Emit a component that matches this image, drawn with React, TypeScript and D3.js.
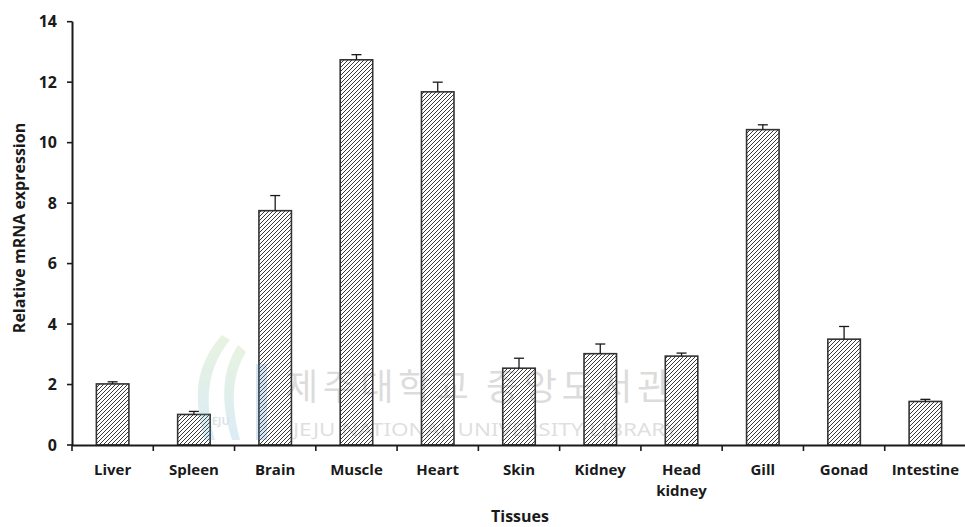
import React from "react";
import * as d3 from "d3";

// Tissue-specific relative mRNA expression (mean and upper error)
const categories = [
  "Liver",
  "Spleen",
  "Brain",
  "Muscle",
  "Heart",
  "Skin",
  "Kidney",
  "Head kidney",
  "Gill",
  "Gonad",
  "Intestine",
];
const means = [2.02, 1.01, 7.75, 12.74, 11.68, 2.54, 3.02, 2.94, 10.43, 3.5, 1.44];
const errors = [0.07, 0.1, 0.5, 0.17, 0.32, 0.33, 0.32, 0.1, 0.16, 0.42, 0.07];
const yTicks = [0, 2, 4, 6, 8, 10, 12, 14];

const W = 965;
const H = 527;
const FONT = "'Open Sans', 'Noto Sans', sans-serif";
const INK = "#1a1a1a";

export default function App() {
  const x = d3
    .scaleBand<string>()
    .domain(categories)
    .range([72, 966])
    .paddingInner(0.6)
    .paddingOuter(0.3);
  const y = d3.scaleLinear().domain([0, 14]).range([445, 21.7]);
  const step = x.step();
  const x0 = x.range()[0];
  const boundaries = d3.range(categories.length + 1).map((i) => x0 + i * step);

  return (
    <svg
      width={W}
      height={H}
      viewBox={`0 0 ${W} ${H}`}
      style={{ position: "absolute", left: 0, top: 0, background: "#fff" }}
    >
      <defs>
        <pattern id="hatch" patternUnits="userSpaceOnUse" width="4" height="4">
          <rect width="4" height="4" fill="#fff" />
          <path d="M-1,1 l2,-2 M0,4 l4,-4 M3,5 l2,-2" stroke="#3a3a3a" strokeWidth="1" />
        </pattern>
        <linearGradient id="swoosh" x1="0" y1="0" x2="0" y2="1">
          <stop offset="0%" stopColor="#8fc46a" />
          <stop offset="100%" stopColor="#4aa3d8" />
        </linearGradient>
      </defs>

      {/* bars */}
      {categories.map((c, i) => (
        <rect
          key={c}
          x={x(c)}
          y={y(means[i])}
          width={x.bandwidth()}
          height={y(0) - y(means[i])}
          fill="url(#hatch)"
          stroke="#333"
          strokeWidth={1.6}
        />
      ))}

      {/* upper error bars */}
      {categories.map((c, i) => {
        const cx = (x(c) as number) + x.bandwidth() / 2;
        const top = y(means[i] + errors[i]);
        return (
          <g key={c} stroke={INK} strokeWidth={1.3}>
            <line x1={cx} x2={cx} y1={y(means[i])} y2={top} />
            <line x1={cx - 5} x2={cx + 5} y1={top} y2={top} />
          </g>
        );
      })}

      {/* y axis */}
      <line x1={72.5} x2={72.5} y1={y(14)} y2={y(0)} stroke={INK} strokeWidth={2} />
      {yTicks.map((t) => (
        <g key={t}>
          <line x1={67} x2={72.5} y1={y(t)} y2={y(t)} stroke={INK} strokeWidth={1.6} />
          <text
            x={57}
            y={y(t) + 5.5}
            textAnchor="end"
            fontFamily={FONT}
            fontWeight={700}
            fontSize={16}
            fill={INK}
          >
            {t}
          </text>
        </g>
      ))}

      {/* x axis */}
      <line x1={72} x2={966} y1={y(0) + 0.5} y2={y(0) + 0.5} stroke={INK} strokeWidth={2} />
      {boundaries.map((b, i) => (
        <line key={i} x1={b} x2={b} y1={y(0)} y2={y(0) + 6} stroke={INK} strokeWidth={1.6} />
      ))}
      {categories.map((c) => {
        const cx = (x(c) as number) + x.bandwidth() / 2;
        const lines = c.split(" ");
        return (
          <text
            key={c}
            textAnchor="middle"
            fontFamily={FONT}
            fontWeight={700}
            fontSize={15}
            fill={INK}
          >
            {lines.map((l, k) => (
              <tspan key={k} x={cx} y={475 + k * 21}>
                {l}
              </tspan>
            ))}
          </text>
        );
      })}

      {/* axis titles */}
      <text
        x={520}
        y={522}
        textAnchor="middle"
        fontFamily={FONT}
        fontWeight={700}
        fontSize={16}
        fill={INK}
      >
        Tissues
      </text>
      <text
        transform={`translate(25,${228}) rotate(-90)`}
        textAnchor="middle"
        fontFamily={FONT}
        fontWeight={700}
        fontSize={16}
        fill={INK}
      >
        Relative mRNA expression
      </text>

      {/* library watermark */}
      <g opacity={0.2} pointerEvents="none">
        <path
          d="M222,335 C200,360 190,390 205,440 L215,440 C202,395 210,365 230,340 Z"
          fill="url(#swoosh)"
        />
        <path
          d="M238,345 C222,370 220,400 232,440 L240,440 C230,402 232,375 246,352 Z"
          fill="url(#swoosh)"
        />
        <rect x={256} y={364} width={11} height={76} fill="#3f7fc0" />
        <text x={208} y={425} fontFamily={FONT} fontWeight={700} fontSize={11} fill="#5a6f8a">
          JEJU
        </text>
        <text
          x={285}
          y={400}
          fontFamily="'Noto Sans CJK KR', sans-serif"
          fontSize={36}
          fill="#555"
          textLength={385}
          lengthAdjust="spacing"
        >
          제주대학교 중앙도서관
        </text>
        <text
          x={293}
          y={436}
          fontFamily="'Noto Sans', sans-serif"
          fontSize={18}
          fill="#666"
          textLength={385}
          lengthAdjust="spacingAndGlyphs"
        >
          JEJU NATIONAL UNIVERSITY LIBRARY
        </text>
      </g>
    </svg>
  );
}
